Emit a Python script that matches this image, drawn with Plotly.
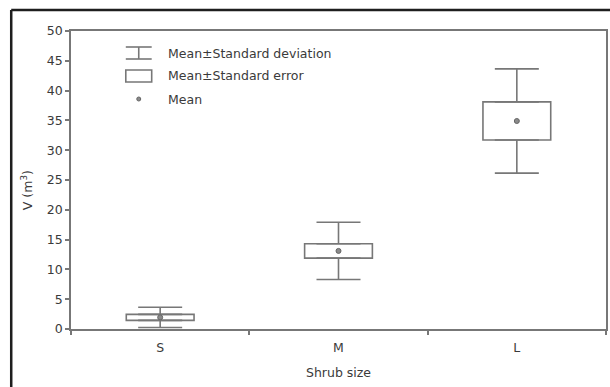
import plotly.graph_objects as go

# Shrub volume by size class: mean, standard error, standard deviation
categories = ["S", "M", "L"]
mean_vals = [1.95, 13.1, 34.9]
se_vals = [0.5, 1.2, 3.2]
sd_vals = [1.7, 4.8, 8.75]

y_ticks = [0, 5, 10, 15, 20, 25, 30, 35, 40, 45, 50]

GRAY = "#777777"
TEXT = "#3a3a3a"
FONT = "DejaVu Sans"

W, H = 610, 387
L_M, R_M, T_M, B_M = 71, 2, 31, 58
PW, PH = W - L_M - R_M, H - T_M - B_M


def px(x):
    return (x - L_M) / PW


def py(y):
    return (H - B_M - y) / PH


box_base = [m - s for m, s in zip(mean_vals, se_vals)]
box_top = [m + s for m, s in zip(mean_vals, se_vals)]
box_height = [2 * s for s in se_vals]
whisker = [d - s for d, s in zip(sd_vals, se_vals)]

fig = go.Figure()

# Mean ± standard error boxes
fig.add_trace(go.Bar(
    x=categories, y=box_height, base=box_base, width=0.38,
    marker=dict(color="white", line=dict(color=GRAY, width=1.6)),
    showlegend=False, hoverinfo="skip",
))

# Upper whiskers: from mean+SE up to mean+SD
fig.add_trace(go.Scatter(
    x=categories, y=box_top, mode="markers",
    marker=dict(size=1, opacity=0),
    error_y=dict(type="data", symmetric=False, array=whisker,
                 arrayminus=[0] * len(categories),
                 width=22, thickness=1.6, color=GRAY),
    showlegend=False, hoverinfo="skip",
))

# Lower whiskers: from mean-SE down to mean-SD
fig.add_trace(go.Scatter(
    x=categories, y=box_base, mode="markers",
    marker=dict(size=1, opacity=0),
    error_y=dict(type="data", symmetric=False, array=[0] * len(categories),
                 arrayminus=whisker,
                 width=22, thickness=1.6, color=GRAY),
    showlegend=False, hoverinfo="skip",
))

# Means
fig.add_trace(go.Scatter(
    x=categories, y=mean_vals, mode="markers",
    marker=dict(size=5, color="#8a8a8a", line=dict(color="#666666", width=1)),
    showlegend=False,
))

shapes = []
# Outer frame (left and top edges)
shapes.append(dict(type="line", xref="paper", yref="paper",
                   x0=px(11), x1=px(11), y0=py(400), y1=py(10),
                   line=dict(color="#1e1e1e", width=2.5)))
shapes.append(dict(type="line", xref="paper", yref="paper",
                   x0=px(11), x1=px(620), y0=py(10), y1=py(10),
                   line=dict(color="#1e1e1e", width=2.5)))

# Legend icons
icon_x0, icon_x1, icon_xc = 126, 152, 139
for yy in (47, 59):
    shapes.append(dict(type="line", xref="paper", yref="paper",
                       x0=px(icon_x0), x1=px(icon_x1), y0=py(yy), y1=py(yy),
                       line=dict(color=GRAY, width=1.6)))
shapes.append(dict(type="line", xref="paper", yref="paper",
                   x0=px(icon_xc), x1=px(icon_xc), y0=py(47), y1=py(59),
                   line=dict(color=GRAY, width=1.6)))
shapes.append(dict(type="rect", xref="paper", yref="paper",
                   x0=px(icon_x0), x1=px(icon_x1), y0=py(82), y1=py(70),
                   line=dict(color=GRAY, width=1.6), fillcolor="white"))
shapes.append(dict(type="circle", xref="paper", yref="paper",
                   x0=px(icon_xc - 2), x1=px(icon_xc + 2),
                   y0=py(101), y1=py(97),
                   line=dict(color="#666666", width=1), fillcolor="#8a8a8a"))

annotations = []
legend_labels = ["Mean±Standard deviation", "Mean±Standard error", "Mean"]
legend_rows = [53, 76, 99]
for txt, yy in zip(legend_labels, legend_rows):
    annotations.append(dict(text=txt, xref="paper", yref="paper",
                            x=px(166), y=py(yy), xanchor="left",
                            yanchor="middle", showarrow=False,
                            font=dict(family=FONT, size=12.5, color=TEXT)))

# Axis titles
annotations.append(dict(text="V (m<sup>3</sup>)", xref="paper", yref="paper",
                        x=px(27), y=py(190), textangle=-90,
                        xanchor="center", yanchor="middle", showarrow=False,
                        font=dict(family=FONT, size=12.5, color=TEXT)))
annotations.append(dict(text="Shrub size", xref="paper", yref="paper",
                        x=px(339), y=py(372), xanchor="center",
                        yanchor="middle", showarrow=False,
                        font=dict(family=FONT, size=12.5, color=TEXT)))

fig.update_layout(
    width=W, height=H,
    margin=dict(l=L_M, r=R_M, t=T_M, b=B_M, pad=0),
    paper_bgcolor="white", plot_bgcolor="white",
    font=dict(family=FONT, size=12.5, color=TEXT),
    shapes=shapes, annotations=annotations,
    showlegend=False,
    xaxis=dict(
        range=[-0.5, 2.5], showgrid=False, zeroline=False,
        showline=True, linecolor=GRAY, linewidth=1.5, mirror=True,
        ticks="outside", tickson="boundaries", ticklen=4, tickcolor=GRAY,
        tickwidth=1.5, ticklabelstandoff=6,
        tickfont=dict(family=FONT, size=12.5, color=TEXT),
    ),
    yaxis=dict(
        range=[0, 50], tickvals=y_ticks, showgrid=False, zeroline=False,
        showline=True, linecolor=GRAY, linewidth=1.5, mirror=True,
        ticks="outside", ticklen=4, tickcolor=GRAY, tickwidth=1.5,
        tickfont=dict(family=FONT, size=12.5, color=TEXT),
    ),
)

fig.write_html("out.html")
